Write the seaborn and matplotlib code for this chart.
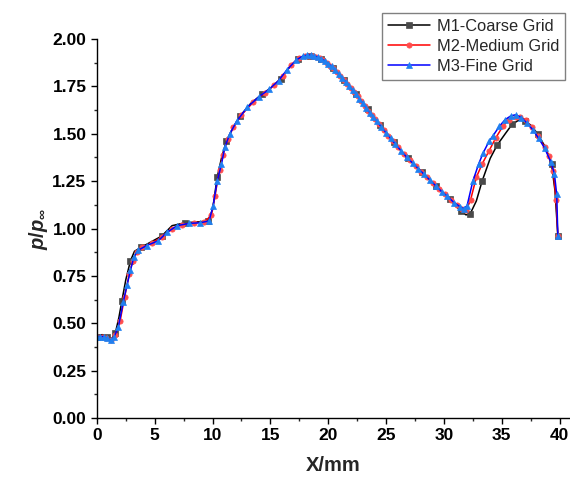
import numpy as np
import pandas as pd
import matplotlib
matplotlib.use("Agg")
import matplotlib.pyplot as plt
import seaborn as sns
from matplotlib.ticker import MultipleLocator

# ---- data ----
m1_x = [0.0, 0.45, 0.9, 1.3, 1.6, 1.9, 2.15, 2.5, 2.9, 3.25, 3.8, 4.7, 5.6, 6.5, 7.6, 8.75, 9.6,
        10.0, 10.4, 10.8, 11.2, 11.7, 12.4, 13.3, 14.3, 15.1, 15.9, 16.7, 17.4, 17.9, 18.4, 18.9,
        19.4, 19.9, 20.4, 20.9, 21.4, 21.9, 22.4, 22.9, 23.4, 23.9, 24.5, 25.1, 25.7, 26.3, 26.9,
        27.5, 28.1, 28.7, 29.3, 29.9, 30.5, 31.0, 31.5, 31.9, 32.25, 32.8, 33.3, 34.0, 34.6, 35.3,
        35.9, 36.5, 37.0, 37.5, 38.1, 38.8, 39.3, 39.6, 39.85]
m1_y = [0.43, 0.44, 0.43, 0.42, 0.45, 0.53, 0.615, 0.73, 0.83, 0.88, 0.90, 0.93, 0.96, 1.015, 1.03,
        1.035, 1.04, 1.10, 1.27, 1.38, 1.46, 1.525, 1.595, 1.66, 1.71, 1.745, 1.79, 1.855, 1.895,
        1.91, 1.912, 1.905, 1.893, 1.872, 1.847, 1.815, 1.782, 1.745, 1.708, 1.67, 1.628, 1.59,
        1.545, 1.50, 1.455, 1.41, 1.37, 1.335, 1.298, 1.26, 1.225, 1.19, 1.155, 1.12, 1.09, 1.072,
        1.075, 1.145, 1.25, 1.37, 1.44, 1.50, 1.55, 1.573, 1.565, 1.546, 1.50, 1.426, 1.34, 1.20,
        0.96]

m2_x = [0.0, 0.4, 0.8, 1.2, 1.6, 2.0, 2.4, 2.8, 3.1, 3.45, 3.9, 4.8, 5.6, 6.5, 7.4, 8.4, 9.3, 9.9,
        10.2, 10.6, 10.9, 11.3, 11.8, 12.5, 13.5, 14.5, 15.3, 16.1, 16.8, 17.5, 18.0, 18.35, 18.65,
        18.95, 19.25, 19.55, 19.85, 20.15, 20.45, 20.75, 21.05, 21.35, 21.65, 21.95, 22.25, 22.55,
        22.85, 23.15, 23.45, 23.75, 24.05, 24.4, 24.8, 25.2, 25.6, 26.05, 26.55, 27.05, 27.55,
        28.05, 28.55, 29.05, 29.55, 30.05, 30.6, 31.15, 31.6, 31.95, 32.3, 32.8, 33.3, 33.9, 34.5,
        35.1, 35.6, 36.2, 36.6, 37.1, 37.6, 38.1, 38.7, 39.1, 39.45, 39.7, 39.85]
m2_y = [0.43, 0.43, 0.42, 0.41, 0.44, 0.51, 0.64, 0.76, 0.83, 0.875, 0.90, 0.925, 0.955, 1.00, 1.02,
        1.03, 1.035, 1.07, 1.17, 1.31, 1.39, 1.47, 1.535, 1.60, 1.665, 1.715, 1.755, 1.805, 1.865,
        1.90, 1.91, 1.912, 1.91, 1.905, 1.90, 1.89, 1.875, 1.86, 1.845, 1.825, 1.805, 1.785, 1.762,
        1.74, 1.72, 1.697, 1.672, 1.647, 1.622, 1.60, 1.577, 1.55, 1.52, 1.49, 1.46, 1.428, 1.392,
        1.36, 1.33, 1.30, 1.27, 1.24, 1.21, 1.18, 1.15, 1.125, 1.105, 1.10, 1.15, 1.27, 1.34, 1.41,
        1.48, 1.54, 1.575, 1.59, 1.59, 1.57, 1.535, 1.49, 1.43, 1.38, 1.305, 1.15, 0.96]

m3_x = [0.0, 0.3, 0.6, 0.9, 1.25, 1.5, 1.85, 2.27, 2.6, 2.9, 3.2, 3.55, 4.3, 5.3, 6.07, 6.94, 7.97,
        8.9, 9.7, 10.05, 10.4, 10.77, 11.06, 11.5, 12.07, 13.0, 14.0, 14.9, 15.7, 16.4, 17.25, 17.8,
        18.2, 18.5, 18.8, 19.1, 19.4, 19.7, 20.0, 20.3, 20.6, 20.9, 21.2, 21.5, 21.8, 22.1, 22.4,
        22.7, 23.0, 23.3, 23.6, 23.9, 24.2, 24.6, 25.0, 25.4, 25.8, 26.3, 26.8, 27.3, 27.8, 28.3,
        28.8, 29.3, 29.8, 30.3, 30.9, 31.4, 31.7, 32.0, 32.5, 33.0, 33.4, 33.9, 34.25, 34.8, 35.3,
        35.8, 36.2, 36.7, 37.2, 37.7, 38.2, 38.7, 39.25, 39.55, 39.75, 39.85]
m3_y = [0.43, 0.43, 0.43, 0.42, 0.41, 0.43, 0.48, 0.61, 0.70, 0.78, 0.85, 0.885, 0.91, 0.935, 0.98,
        1.015, 1.027, 1.03, 1.04, 1.12, 1.25, 1.34, 1.43, 1.50, 1.565, 1.64, 1.695, 1.735, 1.78,
        1.835, 1.89, 1.91, 1.915, 1.915, 1.91, 1.905, 1.895, 1.885, 1.87, 1.855, 1.835, 1.815, 1.795,
        1.775, 1.752, 1.73, 1.71, 1.685, 1.66, 1.635, 1.61, 1.59, 1.565, 1.535, 1.505, 1.475, 1.445,
        1.41, 1.375, 1.345, 1.315, 1.285, 1.255, 1.225, 1.195, 1.17, 1.135, 1.115, 1.105, 1.12, 1.25,
        1.34, 1.40, 1.46, 1.49, 1.54, 1.575, 1.595, 1.60, 1.585, 1.555, 1.52, 1.475, 1.425, 1.35,
        1.29, 1.18, 0.96]

labels = ["M1-Coarse Grid", "M2-Medium Grid", "M3-Fine Grid"]
x_ticks = [0, 5, 10, 15, 20, 25, 30, 35, 40]
y_ticks = [0.00, 0.25, 0.50, 0.75, 1.00, 1.25, 1.50, 1.75, 2.00]

# ---- style ----
sns.set_theme(style="ticks")
plt.rcParams["font.family"] = ["Liberation Sans", "DejaVu Sans"]
plt.rcParams["mathtext.fontset"] = "custom"
plt.rcParams["mathtext.it"] = "Liberation Sans:italic:bold"
plt.rcParams["mathtext.rm"] = "Liberation Sans:bold"
plt.rcParams["mathtext.bf"] = "Liberation Sans:bold"

fig = plt.figure(figsize=(5.7, 4.79), dpi=100)
ax = fig.add_axes([0.170, 0.1273, 0.829, 0.7913])

series = [
    (m1_x, m1_y, labels[0], "black", "s", "#4a4a4a", 2),
    (m2_x, m2_y, labels[1], "#ff0000", "o", "#ff4d4d", 1),
    (m3_x, m3_y, labels[2], "#0000ff", "^", "#2080f0", 1),
]
for xs, ys, lab, lc, mk, mc, every in series:
    df = pd.DataFrame({"x": xs, "y": ys})
    sns.lineplot(data=df, x="x", y="y", ax=ax, sort=False, estimator=None,
                 color=lc, linewidth=1.1, marker=mk, markersize=3.8,
                 markerfacecolor=mc, markeredgecolor=mc, markeredgewidth=0.5,
                 markevery=every, label=lab)

ax.set_xlim(0, 40.85)
ax.set_ylim(0, 2.0)
ax.set_xticks(x_ticks)
ax.set_yticks(y_ticks)
ax.set_xticklabels([str(t) for t in x_ticks])
ax.set_yticklabels([f"{t:.2f}" for t in y_ticks])
ax.xaxis.set_minor_locator(MultipleLocator(2.5))
ax.yaxis.set_minor_locator(MultipleLocator(0.125))
for sp in ["top", "right"]:
    ax.spines[sp].set_visible(False)
for sp in ["left", "bottom"]:
    ax.spines[sp].set_linewidth(1.0)
    ax.spines[sp].set_color("black")
ax.tick_params(axis="both", which="major", direction="out", length=4.5, width=1.0,
               labelsize=12.5, colors="black", pad=3)
ax.tick_params(axis="both", which="minor", direction="out", length=2.5, width=1.0)
for lbl in ax.get_xticklabels() + ax.get_yticklabels():
    lbl.set_fontweight("bold")

ax.set_xlabel("X/mm", fontsize=14.5, fontweight="bold", labelpad=9)
ax.set_ylabel(r"$p/p_{\infty}$", fontsize=14.5, labelpad=2)

leg = ax.legend(loc="upper right", bbox_to_anchor=(0.991, 0.973),
                bbox_transform=fig.transFigure, fontsize=11.8, frameon=True,
                fancybox=False, framealpha=1, edgecolor="#808080",
                handlelength=2.6, handletextpad=0.4, borderpad=0.35,
                labelspacing=0.32, borderaxespad=0.0)
leg.get_frame().set_linewidth(1.0)

fig.savefig("out.png", dpi=100)
